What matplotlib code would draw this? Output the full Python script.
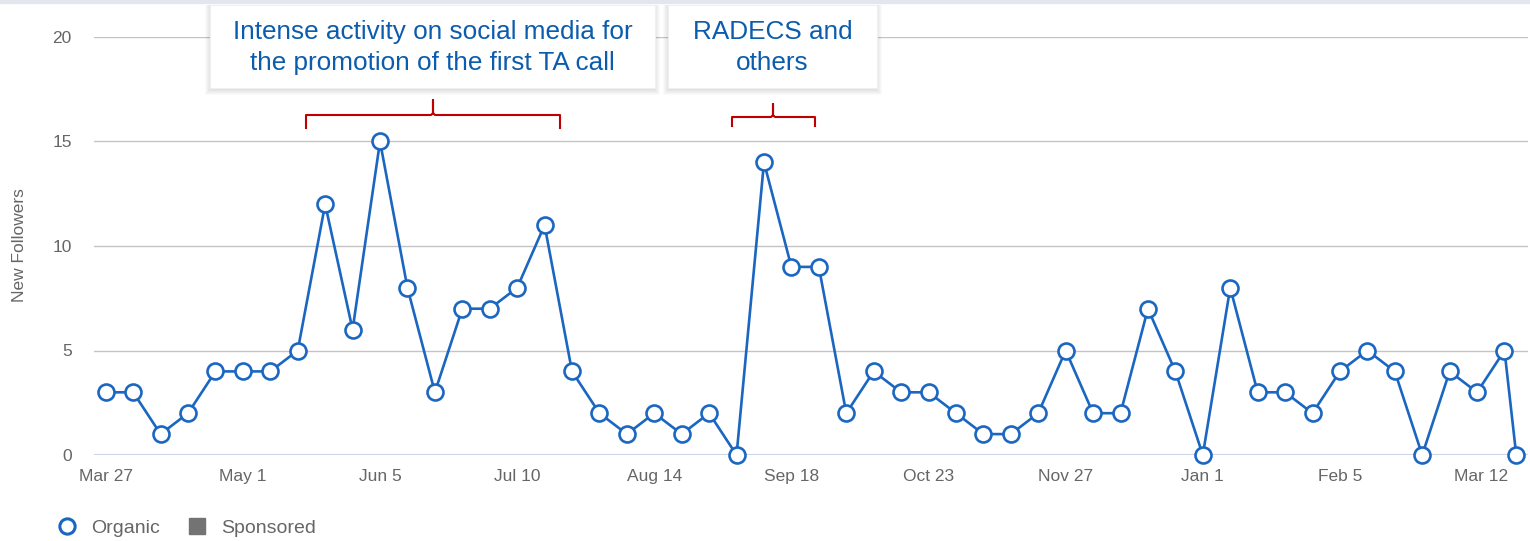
import datetime as dt
import matplotlib
matplotlib.use("Agg")
import matplotlib.pyplot as plt
import matplotlib.dates as mdates
from matplotlib.lines import Line2D
from matplotlib.patches import Rectangle

W, H = 1530, 541

# weekly new followers (organic), starting Mon 27 Mar 2023, plus a partial last week
start = dt.date(2023, 3, 27)
organic = [3, 3, 1, 2, 4, 4, 4, 5, 12, 6, 15, 8, 3, 7, 7, 8, 11, 4, 2, 1,
           2, 1, 2, 0, 14, 9, 9, 2, 4, 3, 3, 2, 1, 1, 2, 5, 2, 2, 7, 4,
           0, 8, 3, 3, 2, 4, 5, 4, 0, 4, 3, 5]
last_partial = (dt.date(2024, 3, 21), 0)

tick_dates = [dt.date(2023, 3, 27), dt.date(2023, 5, 1), dt.date(2023, 6, 5),
              dt.date(2023, 7, 10), dt.date(2023, 8, 14), dt.date(2023, 9, 18),
              dt.date(2023, 10, 23), dt.date(2023, 11, 27), dt.date(2024, 1, 1),
              dt.date(2024, 2, 5), dt.date(2024, 3, 12)]
tick_labels = ["Mar 27", "May 1", "Jun 5", "Jul 10", "Aug 14", "Sep 18",
               "Oct 23", "Nov 27", "Jan 1", "Feb 5", "Mar 12"]
y_ticks = [0, 5, 10, 15, 20]

notes = ["Intense activity on social media for\nthe promotion of the first TA call",
         "RADECS and\nothers"]

dates = [start + dt.timedelta(weeks=i) for i in range(len(organic))]
dates.append(last_partial[0])
values = organic + [last_partial[1]]

plt.rcParams["font.family"] = ["Liberation Sans", "DejaVu Sans"]
BLUE = "#1a66c1"
GREY = "#666666"

fig = plt.figure(figsize=(W / 100, H / 100), dpi=100)


def fx(px):
    return px / W


def fy(py):
    return 1 - py / H


ax = fig.add_axes([fx(94), fy(455), fx(1528) - fx(94), fy(37) - fy(455)])

ax.plot(dates, values, color=BLUE, lw=1.9, marker="o", ms=11.5,
        mfc="white", mec=BLUE, mew=1.9, clip_on=False, zorder=5)

x0 = dt.date(2023, 3, 27) - dt.timedelta(days=3.1)
x1 = dt.date(2024, 3, 19) + dt.timedelta(days=5.6)
ax.set_xlim(mdates.date2num(x0), mdates.date2num(x1))
ax.set_ylim(0, 20)

ax.set_yticks(y_ticks)
ax.set_xticks([mdates.date2num(d) for d in tick_dates])
ax.set_xticklabels(tick_labels)
ax.tick_params(axis="both", length=0, labelsize=12.5, labelcolor=GREY)
ax.tick_params(axis="y", pad=16)
ax.tick_params(axis="x", pad=10)

for y in y_ticks[1:]:
    ax.axhline(y, color="#c4c4c4", lw=1, zorder=1)
ax.axhline(0, color="#ccd6eb", lw=1.5, zorder=1)
for s in ax.spines.values():
    s.set_visible(False)

fig.text(fx(20), fy(245), "New Followers", rotation=90, ha="center",
         va="center", fontsize=12.5, color=GREY)

# top border strip
fig.patches.append(Rectangle((0, fy(3)), 1, fy(0) - fy(3), transform=fig.transFigure,
                             color="#e3e7ed", zorder=0))

# annotation boxes with soft shadow
boxes = [(210, 5, 655, 88), (668, 5, 877, 88)]
for (l, t, r, b), txt in zip(boxes, notes):
    for k in range(6):
        g = 1 + k
        fig.patches.append(Rectangle((fx(l - g + 1), fy(b + g + 1)),
                                     fx(r - l + 2 * g - 2), fy(t) - fy(b + g + 1),
                                     transform=fig.transFigure, color="black",
                                     alpha=0.018, lw=0, zorder=8))
    fig.patches.append(Rectangle((fx(l), fy(b)), fx(r - l), fy(t) - fy(b),
                                 transform=fig.transFigure, facecolor="white",
                                 edgecolor="#f0f0f0", lw=0.8, zorder=9))
    fig.text(fx((l + r) / 2), fy((t + b) / 2 + 1), txt, ha="center", va="center",
             fontsize=18.8, color="#0b5cad", linespacing=1.42, zorder=10)

# red brackets
brackets = [(306, 560, 433, 115, 128, 100), (732, 815, 773, 117, 126, 104)]
for l, r, c, y, ylo, ytop in brackets:
    xs = [l, l, c - 2, c, c, c, c + 2, r, r]
    ys = [ylo, y, y, y - 2, ytop, y - 2, y, y, ylo]
    fig.add_artist(Line2D([fx(v) for v in xs], [fy(v) for v in ys],
                          transform=fig.transFigure, color="#c00000", lw=1.5))

# legend
handles = [Line2D([], [], color="none", marker="o", ms=11, mfc="white",
                  mec=BLUE, mew=2.2, label="Organic"),
           Line2D([], [], color="none", marker="s", ms=11, mfc="#737373",
                  mec="#737373", label="Sponsored")]
fig.legend(handles=handles, loc="center left", bbox_to_anchor=(fx(40), fy(528)),
           ncol=2, frameon=False, fontsize=14, handlelength=1.0,
           handletextpad=0.75, columnspacing=1.4, labelcolor=GREY)

fig.savefig("out.png", dpi=100)
